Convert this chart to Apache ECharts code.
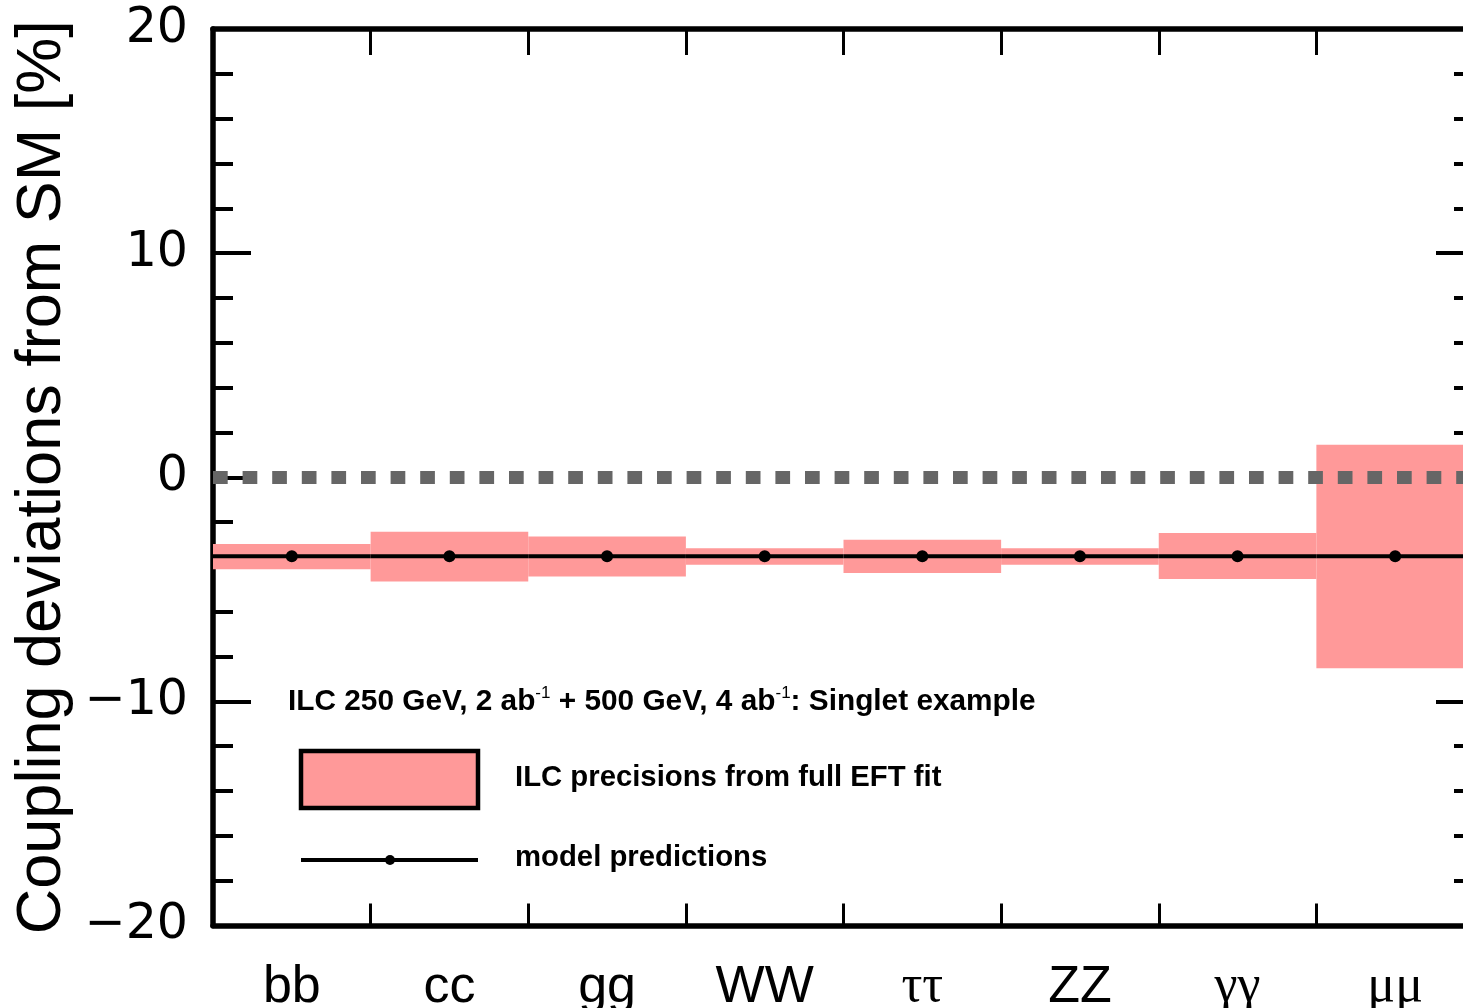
<!DOCTYPE html>
<html>
<head>
<meta charset="utf-8">
<script src="https://cdn.jsdelivr.net/npm/echarts@6/dist/echarts.min.js"></script>
<style>
html,body{margin:0;padding:0;background:#fff;}
#chart{width:1463px;height:1008px;}
</style>
</head>
<body>
<div id="chart"></div>
<script>
// couplings along the x axis
const categories = ['bb', 'cc', 'gg', 'WW', 'ττ', 'ZZ', 'γγ', 'μμ'];
const greekLabels = ['ττ', 'γγ', 'μμ'];
// ILC precision band (low / high edge, %)
const precisionLow = [-4.10, -4.65, -4.43, -3.90, -4.27, -3.90, -4.54, -8.52];
const precisionHigh = [-2.98, -2.43, -2.64, -3.17, -2.79, -3.17, -2.49, 1.45];
// singlet model predictions (%)
const modelValues = [-3.53, -3.53, -3.53, -3.53, -3.53, -3.53, -3.53, -3.53];
// y axis range
const yMin = -20, yMax = 20, yStep = 10;

const pink = '#ff9999';
const sans = '"Liberation Sans", Arial, sans-serif';

let chart = echarts.init(document.getElementById('chart'));

const bandData = categories.map(function (c, i) {
    return [i, precisionLow[i], precisionHigh[i]];
});
const modelData = categories.map(function (c, i) {
    return [i, modelValues[i]];
});

function renderBand(params, api) {
    let lo = api.coord([api.value(0), api.value(1)]);
    let hi = api.coord([api.value(0), api.value(2)]);
    let w = api.size([1, 0])[0];
    return {
        type: 'rect',
        shape: {x: lo[0] - w / 2, y: hi[1], width: w, height: lo[1] - hi[1]},
        style: {fill: pink}
    };
}

function renderModel(params, api) {
    let p = api.coord([api.value(0), api.value(1)]);
    let w = api.size([1, 0])[0];
    return {
        type: 'group',
        children: [{
            type: 'line',
            shape: {x1: p[0] - w / 2, y1: p[1], x2: p[0] + w / 2, y2: p[1]},
            style: {stroke: '#000', lineWidth: 4}
        }, {
            type: 'circle',
            shape: {cx: p[0], cy: p[1], r: 6},
            style: {fill: '#000'}
        }]
    };
}

const catAxisBase = {
    type: 'category',
    data: categories,
    boundaryGap: true,
    axisLine: {show: true, onZero: false, lineStyle: {color: '#000', width: 5.5}},
    axisTick: {show: true, inside: true, alignWithLabel: false, length: 22, lineStyle: {color: '#000', width: 3}},
    splitLine: {show: false}
};

const valAxisBase = {
    type: 'value',
    min: yMin,
    max: yMax,
    interval: yStep,
    axisLine: {show: true, onZero: false, lineStyle: {color: '#000', width: 5.5}},
    axisTick: {show: true, inside: true, length: 38, lineStyle: {color: '#000', width: 4}},
    minorTick: {show: true, splitNumber: 5, length: 20, lineStyle: {color: '#000', width: 4}},
    splitLine: {show: false}
};

let option = {
    animation: false,
    backgroundColor: '#fff',
    grid: {left: 213, right: -11, top: 29, bottom: 82.5, containLabel: false, outerBoundsMode: 'none'},
    xAxis: [
        Object.assign({}, catAxisBase, {
            position: 'bottom',
            axisLabel: {
                show: true,
                margin: 36,
                color: '#000',
                formatter: function (v) {
                    return greekLabels.indexOf(v) >= 0 ? '{g|' + v + '}' : '{l|' + v + '}';
                },
                rich: {
                    l: {fontFamily: sans, fontSize: 52, color: '#000'},
                    g: {fontFamily: '"Liberation Serif", "DejaVu Serif", serif', fontSize: 52, color: '#000'}
                }
            }
        }),
        Object.assign({}, catAxisBase, {
            position: 'top',
            axisLabel: {show: false},
            axisTick: {show: true, inside: true, alignWithLabel: false, length: 26, lineStyle: {color: '#000', width: 3}}
        })
    ],
    yAxis: [
        Object.assign({}, valAxisBase, {
            position: 'left',
            name: 'Coupling deviations from SM [%]',
            nameLocation: 'middle',
            nameRotate: 90,
            nameGap: 135,
            nameTextStyle: {fontFamily: sans, fontSize: 63, color: '#000'},
            axisLabel: {
                show: true,
                margin: 25,
                color: '#000',
                fontFamily: '"DejaVu Sans", sans-serif',
                fontSize: 49,
                formatter: function (v) {
                    return v < 0 ? '\u2212' + Math.abs(v) : String(v);
                }
            }
        }),
        Object.assign({}, valAxisBase, {
            position: 'right',
            axisLabel: {show: false}
        })
    ],
    series: [{
        name: 'ILC precisions from full EFT fit',
        type: 'custom',
        renderItem: renderBand,
        data: bandData,
        encode: {x: 0, y: [1, 2]},
        z: 2,
        markLine: {
            silent: true,
            symbol: 'none',
            label: {show: false},
            lineStyle: {color: '#666666', width: 13, type: [14.7, 14.9], cap: 'butt'},
            data: [{yAxis: 0}],
            z: 3
        }
    }, {
        name: 'model predictions',
        type: 'custom',
        renderItem: renderModel,
        data: modelData,
        encode: {x: 0, y: 1},
        z: 4
    }],
    graphic: [{
        type: 'text',
        z: 10,
        style: {
            x: 288,
            y: 702,
            verticalAlign: 'middle',
            text: '{b|ILC 250 GeV, 2 ab}{s|-1}{b| + 500 GeV, 4 ab}{s|-1}{b|: Singlet example}',
            rich: {
                b: {fontFamily: sans, fontSize: 29.8, fontWeight: 'bold', fill: '#000', lineHeight: 34},
                s: {fontFamily: sans, fontSize: 17, fill: '#000', verticalAlign: 'top', lineHeight: 18}
            }
        }
    }, {
        type: 'rect',
        z: 10,
        shape: {x: 301, y: 751, width: 177, height: 57},
        style: {fill: pink, stroke: '#000', lineWidth: 4.5}
    }, {
        type: 'text',
        z: 10,
        style: {
            x: 515, y: 778, verticalAlign: 'middle',
            text: 'ILC precisions from full EFT fit',
            fontFamily: sans, fontSize: 29.3, fontWeight: 'bold', fill: '#000'
        }
    }, {
        type: 'line',
        z: 10,
        shape: {x1: 301, y1: 860, x2: 478, y2: 860},
        style: {stroke: '#000', lineWidth: 4}
    }, {
        type: 'circle',
        z: 10,
        shape: {cx: 390, cy: 860, r: 5},
        style: {fill: '#000'}
    }, {
        type: 'text',
        z: 10,
        style: {
            x: 515, y: 858, verticalAlign: 'middle',
            text: 'model predictions',
            fontFamily: sans, fontSize: 29.3, fontWeight: 'bold', fill: '#000'
        }
    }]
};

chart.setOption(option);
</script>
</body>
</html>
